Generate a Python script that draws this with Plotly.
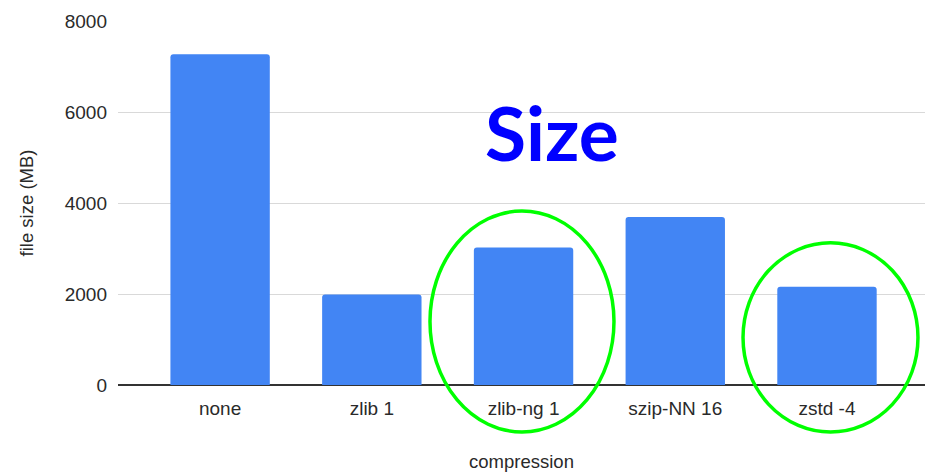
import plotly.graph_objects as go

# File size for each compression setting
categories = ["none", "zlib 1", "zlib-ng 1", "szip-NN 16", "zstd -4"]
file_size_mb = [7270, 1990, 3020, 3690, 2160]
y_ticks = [0, 2000, 4000, 6000, 8000]

bar_color = "#4285F4"
highlight = "#00FF00"
text_color = "#2a2a2a"

fig = go.Figure(
    go.Bar(
        x=categories,
        y=file_size_mb,
        marker=dict(color=bar_color, line=dict(width=0), cornerradius=3),
        hoverinfo="x+y",
    )
)

fig.update_layout(
    width=925,
    height=472,
    margin=dict(l=118, r=0, t=21, b=87),
    paper_bgcolor="white",
    plot_bgcolor="white",
    bargap=0.345,
    showlegend=False,
    font=dict(family="Liberation Sans, Arial, sans-serif", color=text_color),
)

fig.update_xaxes(
    range=[-0.673, 4.646],
    showgrid=False,
    showline=False,
    ticks="",
    ticklabelstandoff=10,
    tickfont=dict(size=19, color=text_color),
    title=dict(text="compression", font=dict(size=18.5, color=text_color), standoff=37),
)

fig.update_yaxes(
    range=[0, 8000],
    tickvals=y_ticks,
    ticktext=[str(v) for v in y_ticks],
    showgrid=True,
    gridcolor="#D9D9D9",
    gridwidth=1,
    zeroline=True,
    zerolinecolor="#333333",
    zerolinewidth=2,
    showline=False,
    ticks="",
    ticklabelstandoff=10,
    tickfont=dict(size=19, color=text_color),
    title=dict(text="file size (MB)", font=dict(size=18.5, color=text_color), standoff=26),
)

# Big label over the chart
fig.add_annotation(
    text="<b>Size</b>",
    xref="paper", yref="paper",
    x=0.5375, y=0.694,
    xanchor="center", yanchor="middle",
    showarrow=False,
    font=dict(family="Lato, Open Sans, sans-serif", size=75, color="#0000FF"),
)

# Circles around the highlighted codecs
for x0, x1, y0, y1 in [(0.3866, 0.6146, -0.1292, 0.4780),
                       (0.7745, 0.9913, -0.1292, 0.3905)]:
    fig.add_shape(
        type="circle",
        xref="paper", yref="paper",
        x0=x0, x1=x1, y0=y0, y1=y1,
        line=dict(color=highlight, width=3.5),
        layer="above",
    )

fig.write_html("out.html")
